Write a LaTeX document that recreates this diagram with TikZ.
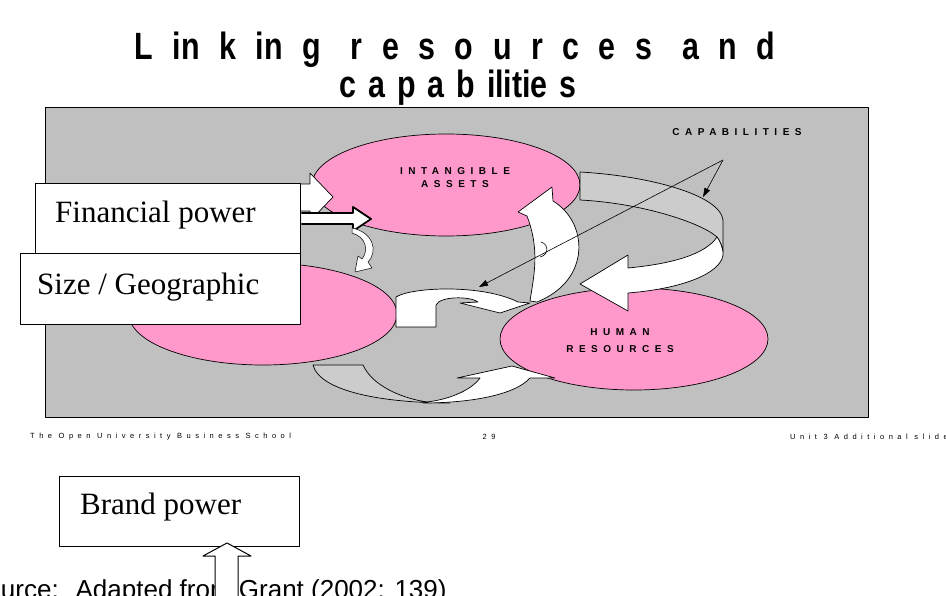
\documentclass[tikz,border=0pt]{standalone}
\usepackage{fontspec}
\setmainfont{Liberation Serif}
\newfontfamily\titlefont{Liberation Sans}[FakeStretch=0.8]
\newfontfamily\capsfont{Liberation Sans}[LetterSpace=55]
\newfontfamily\footfont{Liberation Sans}[LetterSpace=60]
\newfontfamily\srcfont{Liberation Sans}
\usetikzlibrary{shapes.geometric,arrows.meta}
\definecolor{slidegray}{HTML}{C0C0C0}
\definecolor{ribbongray}{HTML}{CCCCCC}
\definecolor{blobpink}{HTML}{FF99CC}
% tracking used in the two title lines
\newcommand\tgA{\hspace{19.5pt}}
\newcommand\tgW{\hspace{30pt}}
\newcommand\tgB{\hspace{12pt}}
\tikzset{
  blob/.style={ellipse, draw=black, line width=0.7pt, fill=blobpink,
    minimum width=268pt, minimum height=102pt, inner sep=0pt},
  lab/.style={font=\capsfont\bfseries\fontsize{10}{13}\selectfont, align=center, inner sep=0pt},
  txtbox/.style={draw=black, line width=1.4pt, fill=white, anchor=north west,
    minimum width=265pt, minimum height=70pt, inner sep=0pt},
  boxtext/.style={font=\fontsize{31}{31}\selectfont, anchor=base west, inner sep=0pt},
  blockarrow/.style={draw=black, line width=0.7pt, fill=white},
  backband/.style={draw=black, line width=0.7pt, fill=ribbongray},
  pointer/.style={line width=0.6pt, -{Triangle[length=9pt,width=6pt]}},
  foot/.style={font=\footfont\fontsize{7.5}{9}\selectfont, inner sep=0pt},
  headline/.style={font=\titlefont\bfseries\fontsize{38}{38}\selectfont, inner sep=0pt}
}
\begin{document}
\begin{tikzpicture}[x=1pt,y=-1pt,line join=round]
\useasboundingbox (0,0) rectangle (946,596);
\clip (0,0) rectangle (946,596);
\fill[white] (0,0) rectangle (946,596);

% title
\node[headline, anchor=base] (title1) at (455,60)
  {L\tgA in\tgA k\tgA in\tgA g\tgW r\tgA e\tgA s\tgA o\tgA u\tgA r\tgA c\tgA e\tgA s\tgW a\tgA n\tgA d};
\node[headline, anchor=base] (title2) at (458,98)
  {c\tgB a\tgB p\tgB a\tgB b\tgB ilitie\tgB s};

% slide panel
\node[draw=black, line width=1pt, fill=slidegray, anchor=north west,
  minimum width=823pt, minimum height=310pt, inner sep=0pt] (panel) at (45,107) {};

% resource ellipses
\node[blob] (intangible) at (446,185) {};
\node[blob] (tangible) at (263,314) {};
\node[blob] (human) at (634,339) {};

% right-hand ribbon: back face
\path[backband] (580,172) .. controls (650,176) and (720,195) .. (723,220)
  -- (723,252) .. controls (722,246) and (720,241) .. (717,237)
  .. controls (700,222) and (640,203) .. (580,200) -- cycle;
% right-hand ribbon: front face with head
\path[blockarrow] (717,237) .. controls (705,255) and (670,264) .. (628,268)
  -- (628,255) -- (580,284) -- (628,311) -- (628,293)
  .. controls (690,288) and (725,270) .. (723,252)
  .. controls (722,246) and (720,241) .. (717,237) -- cycle;

% central rising arrow
\path[blockarrow] (530,301) .. controls (534,275) and (540,250) .. (527,216)
  -- (518,212) -- (552,187) -- (553,201)
  .. controls (588,222) and (592,280) .. (537,302) -- cycle;
\draw[line width=0.6pt] (541,242) .. controls (549,244) and (549,255) .. (540,257);

% hook arrow between the lower ellipses
\path[blockarrow] (396,327) -- (396,297) .. controls (412,287) and (482,284) .. (518,302)
  -- (530,303) -- (500,313) -- (460,303) -- (478,302)
  .. controls (470,296) and (440,296) .. (436,305) -- (436,327) -- cycle;

% bottom ribbon: back face
\path[backband] (313,365) .. controls (320,392) and (385,403) .. (450,403)
  -- (427,402) .. controls (400,398) and (372,385) .. (363,365) -- cycle;
% bottom ribbon: front face with head
\path[blockarrow] (423,403) .. controls (470,403) and (515,395) .. (530,378)
  -- (555,378) -- (512,366) -- (457,378) -- (480,378)
  .. controls (470,392) and (445,400) .. (427,402) -- cycle;

% capabilities label and pointers
\node[lab] (caplbl) at (737,132) {CAPABILITIES};
\coordinate (capfork) at (723,160);
\coordinate (capA) at (703,197);
\coordinate (capB) at (479,287);
\draw[pointer] (capfork) -- (capA);
\draw[pointer] (capfork) -- (capB);

% ellipse labels
\node[lab] (intangiblelbl) at (455,178) {INTANGIBLE\\ASSETS};
\node[lab, font=\capsfont\bfseries\fontsize{10}{17}\selectfont] (humanlbl) at (620,341) {HUMAN\\RESOURCES};

% arrow partly hidden behind the text boxes
\path[blockarrow] (290,184) -- (310,184) -- (310,173) -- (333,197)
  -- (310,221) -- (310,211) -- (290,211) -- cycle;

% text boxes
\node[txtbox] (finbox) at (35,183) {};
\node[txtbox, minimum width=280pt, minimum height=71pt] (sizebox) at (20,253) {};
\node[boxtext] (fintext) at (55,223) {Financial power};
\node[boxtext] (sizetext) at (37,295) {Size / Geographic};

% arrows leaving the financial box
\path[draw=black, fill=white, line width=1.8pt]
  (finbox.east |- 0,213) -- (353,213) -- (353,207) -- (371,219)
  -- (353,231) -- (353,224) -- (finbox.east |- 0,224);
\path[blockarrow, line width=0.5pt] (352,228) .. controls (372,232) and (379,250) .. (368,262)
  -- (372,268) -- (355,272) -- (358,256) -- (362,259)
  .. controls (369,250) and (366,237) .. (352,233) -- cycle;

% footer
\node[foot, anchor=west] (footl) at (30,437) {The Open University Business School};
\node[foot] (footc) at (489,437) {29};
\node[foot, anchor=east] (footr) at (948,437) {Unit 3 Additional slide};

% brand box
\node[txtbox, minimum width=240pt] (brandbox) at (59,476) {};
\node[boxtext] (brandtext) at (80,514) {Brand power};

% source line and the arrow over it
\node[font=\srcfont\fontsize{26}{26}\selectfont, anchor=base west, inner sep=0pt] (src)
  at (-31,598) {Source:~ Adapted from Grant (2002: 139)};
\coordinate (uptip) at (227,543);
\path[blockarrow, line width=1pt] (215,600) -- (215,556) -- (203,556) -- (uptip)
  -- (251,556) -- (238,556) -- (238,600);
\end{tikzpicture}
\end{document}
